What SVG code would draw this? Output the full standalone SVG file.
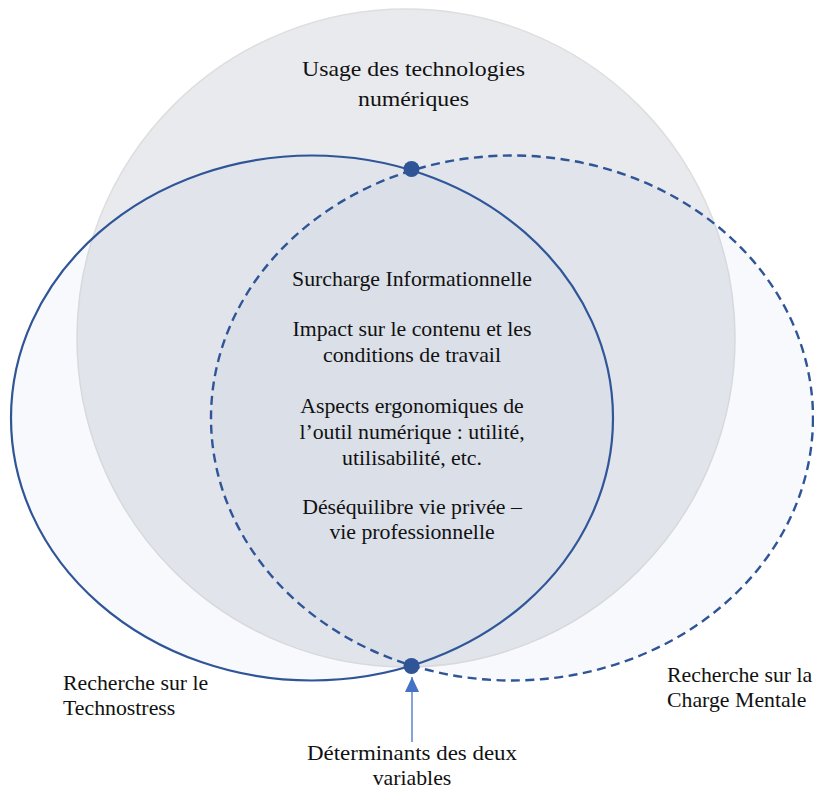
<svg xmlns="http://www.w3.org/2000/svg" width="814" height="789" viewBox="0 0 814 789">
<defs>
<style>
text{font-family:"Liberation Serif","Times New Roman",serif;font-size:21.8px;fill:#111;}
.c{text-anchor:middle;}
.ell{fill:rgba(68,114,196,0.045);stroke:#2F5597;stroke-width:2.2;}
.dash{stroke-dasharray:9 5.5;stroke-width:2.4;}
.dot{fill:#2F5597;}
</style>
<marker id="ah" viewBox="0 0 15 14" refX="15" refY="7" markerWidth="15" markerHeight="14" markerUnits="userSpaceOnUse" orient="auto">
<path d="M0,0 L15,7 L0,14 Z" fill="#4472C4"/>
</marker>
</defs>
<rect width="814" height="789" fill="#ffffff"/>
<g id="usage">
<circle cx="406" cy="338" r="329" fill="#E8EAEE" stroke="#DEDEDE" stroke-width="1.5"/>
<text class="c" x="413.5" y="76" textLength="223" lengthAdjust="spacingAndGlyphs">Usage des technologies</text>
<text class="c" x="413.5" y="106" textLength="111" lengthAdjust="spacingAndGlyphs">numériques</text>
</g>
<g id="technostress">
<ellipse class="ell" cx="312" cy="418" rx="301" ry="262.5"/>
<text x="63" y="690">Recherche sur le</text>
<text x="63" y="715">Technostress</text>
</g>
<g id="charge-mentale">
<ellipse class="ell dash" cx="512" cy="418" rx="301" ry="262.5"/>
<text x="667" y="682">Recherche sur la</text>
<text x="667" y="707">Charge Mentale</text>
</g>
<g id="intersection">
<text class="c" x="412" y="286">Surcharge Informationnelle</text>
<text class="c" x="412" y="336">Impact sur le contenu et les</text>
<text class="c" x="412" y="362">conditions de travail</text>
<text class="c" x="412" y="413">Aspects ergonomiques de</text>
<text class="c" x="412" y="439">l’outil numérique : utilité,</text>
<text class="c" x="412" y="465">utilisabilité, etc.</text>
<text class="c" x="412" y="514">Déséquilibre vie privée –</text>
<text class="c" x="412" y="539">vie professionnelle</text>
</g>
<g id="dots">
<circle class="dot" cx="411.5" cy="169" r="8"/>
<circle class="dot" cx="411.5" cy="666" r="8"/>
</g>
<g id="determinants">
<text class="c" x="412" y="760" textLength="210" lengthAdjust="spacingAndGlyphs">Déterminants des deux</text>
<text class="c" x="412" y="785">variables</text>
</g>
<g id="connectors">
<line x1="412" y1="742" x2="412" y2="677" stroke="#4472C4" stroke-width="1.3" marker-end="url(#ah)"/>
</g>
</svg>
